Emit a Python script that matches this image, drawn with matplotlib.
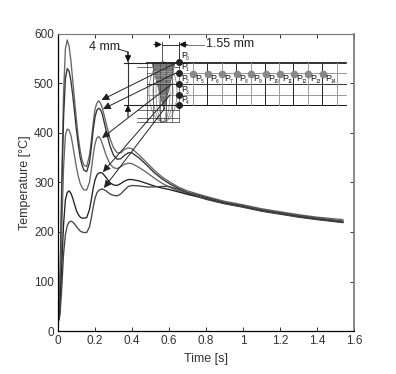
import matplotlib
matplotlib.use("Agg")
import matplotlib.pyplot as plt
from matplotlib.patches import Ellipse, Polygon

plt.rcParams['font.family'] = ['Liberation Sans', 'DejaVu Sans']

# curves
t = [0, .005, .01, .02, .03, .04, .05, .06, .07, .08, .09, .10, .11, .12, .13, .14, .155, .17, .18, .19, .20,
     .21, .22, .23, .24, .26, .28, .30, .32, .34, .36, .38, .40, .44, .48, .52, .56, .60, .65, .70, .80, .90,
     1.0, 1.1, 1.2, 1.3, 1.4, 1.54]
p0 = [20, 30, 80, 300, 480, 570, 588, 575, 545, 505, 465, 425, 390, 365, 345, 335, 332, 355, 385, 420, 448,
      460, 465, 460, 450, 420, 390, 370, 360, 360, 367, 370, 368, 355, 340, 325, 312, 302, 291, 283, 272, 262,
      255, 247, 241, 235, 230, 225]
p1 = [20, 28, 70, 270, 430, 510, 530, 525, 505, 475, 440, 405, 375, 350, 335, 325, 322, 340, 370, 405, 432,
      446, 450, 447, 437, 405, 375, 355, 347, 348, 355, 360, 360, 349, 335, 320, 308, 298, 288, 280, 270, 260,
      253, 245, 239, 233, 228, 222]
p2 = [20, 25, 55, 200, 330, 395, 408, 406, 395, 375, 352, 330, 312, 298, 290, 285, 285, 300, 325, 355, 378,
      390, 393, 388, 378, 355, 338, 330, 328, 332, 337, 339, 338, 330, 320, 309, 299, 291, 283, 277, 268, 259,
      252, 244, 238, 232, 227, 221]
p3 = [20, 23, 40, 130, 215, 265, 280, 283, 278, 268, 255, 243, 235, 230, 228, 228, 229, 245, 265, 288, 305,
      315, 319, 320, 319, 310, 300, 295, 294, 298, 303, 306, 306, 303, 298, 293, 289, 286, 281, 276, 267, 258,
      251, 243, 237, 231, 226, 220]
p4 = [20, 22, 30, 85, 155, 195, 213, 220, 222, 220, 216, 211, 206, 202, 200, 199, 199, 210, 228, 250, 268,
      279, 284, 286, 287, 283, 277, 274, 273, 277, 285, 292, 294, 293, 291, 291, 292, 292, 286, 279, 266, 257,
      250, 242, 236, 230, 225, 219]
series = [p0, p1, p2, p3, p4]
series_colors = ['#666666', '#333333', '#666666', '#222222', '#444444']

x_ticks = [0, 0.2, 0.4, 0.6, 0.8, 1, 1.2, 1.4, 1.6]
x_labels = ['0', '0.2', '0.4', '0.6', '0.8', '1', '1.2', '1.4', '1.6']
y_ticks = [0, 100, 200, 300, 400, 500, 600]

fig = plt.figure(figsize=(3.96, 3.74), dpi=100)
ax = fig.add_axes([58 / 396, 1 - 331 / 374, 296 / 396, 297 / 374])
for vals, c in zip(series, series_colors):
    ax.plot(t, vals, color=c, lw=0.95)
ax.set_xlim(0, 1.6)
ax.set_ylim(0, 600)
ax.set_xticks(x_ticks, x_labels)
ax.set_yticks(y_ticks)
ax.tick_params(direction='in', top=True, right=True, length=3, width=0.7, labelsize=8.5, colors='#333333', pad=3)
ax.set_xlabel('Time [s]', fontsize=9, color='#333333', labelpad=4)
ax.set_ylabel('Temperature [°C]', fontsize=9, color='#333333', labelpad=2)
for side in ['left', 'bottom']:
    ax.spines[side].set_linewidth(0.9)
ax.spines['top'].set_color('#777777')
ax.spines['right'].set_color('#777777')
ax.spines['right'].set_linewidth(1.2)

# schematic overlay, in picture pixels
ov = fig.add_axes([0, 0, 1, 1], facecolor='none')
ov.set_xlim(0, 396)
ov.set_ylim(374, 0)
ov.axis('off')

row_y = [62.7, 73.3, 84, 95, 105.3]
row_colors = ['#111111', '#999999', '#333333', '#999999', '#111111']
col_x = [193, 207, 222, 236, 251, 265, 279, 293, 308, 322, 337]
for i, y in enumerate(row_y):
    ov.plot([147, 346], [y, y], color=row_colors[i], lw=1.2 if i == 0 else 0.7)
for i, x in enumerate(col_x):
    ov.plot([x, x], [62.7, 105.3], color='#222222' if i % 2 else '#999999', lw=0.7)

# weld region mesh
for x in [147, 153, 160, 166, 172, 179]:
    ov.plot([x, x], [62.7, 122], color='#444444', lw=0.5)
for y in [67, 110, 118, 122]:
    ov.plot([137, 179], [y, y], color='#333333', lw=0.5)
for w in [8, 14, 20, 28]:
    ov.add_patch(Ellipse((163, 92), w, 60, fc='none', ec='#777777', lw=0.5))
ov.add_patch(Polygon([[152, 63], [175, 63], [164, 110]], fc='#777777', ec='#555555', lw=0.5))
for y in [67, 71, 75, 79, 83]:
    ov.plot([153, 174], [y, y], color='#aaaaaa', lw=0.4)

# nodes and labels
dot_y = [61.5, 72.5, 84, 95, 105.3]
for i, y in enumerate(dot_y):
    ov.plot([179], [y], 'o', color='#222222', ms=4, zorder=5)
    ov.text(181, y - 3.5, 'P', fontsize=6.5, color='#111111', zorder=6)
    ov.text(186, y - 1.5, str(i), fontsize=3.5, color='#111111', zorder=6)
gray_x = [193, 208, 222, 237, 251, 266, 280, 294, 308, 323]
for i, x in enumerate(gray_x):
    ov.plot([x], [74], 'o', color='#888888', ms=4.5, zorder=5)
    ov.text(x + 2.5, 81, 'P', fontsize=6.5, color='#111111', zorder=6)
    ov.text(x + 8, 83, str(i + 5), fontsize=3.5, color='#111111', zorder=6)

# pointers from nodes to the curves
heads = [(101.5, 100), (103, 109), (102, 138), (103, 172), (104, 188)]
tails = [(176, 63), (176, 73), (172, 84), (170, 95), (165, 108)]
for h, tl in zip(heads, tails):
    ov.annotate('', xy=h, xytext=tl,
                arrowprops=dict(arrowstyle='-|>', color='#222222', lw=0.7, mutation_scale=11, shrinkA=0, shrinkB=0))

# 4 mm dimension
ov.text(89, 47, '4 mm', fontsize=9, color='#222222', va='center')
ov.plot([118, 128, 128], [49, 52, 62], color='#333333', lw=0.7)
ov.plot([128, 128], [62, 105], color='#333333', lw=0.8)
ov.plot([124, 147], [62.5, 62.5], color='#222222', lw=0.8)
ov.plot([124, 147], [105.3, 105.3], color='#222222', lw=0.8)
ov.annotate('', xy=(128, 62), xytext=(128, 52),
            arrowprops=dict(arrowstyle='-|>', color='#111111', lw=0.8, mutation_scale=9, shrinkA=0, shrinkB=0))
ov.annotate('', xy=(128, 105), xytext=(128, 117),
            arrowprops=dict(arrowstyle='-|>', color='#111111', lw=0.8, mutation_scale=9, shrinkA=0, shrinkB=0))

# 1.55 mm dimension
ov.text(206, 44, '1.55 mm', fontsize=9, color='#222222', va='center')
ov.plot([162, 162], [42, 62], color='#555555', lw=0.7)
ov.plot([179, 179], [42, 62], color='#333333', lw=0.7)
ov.plot([162, 179], [44.5, 44.5], color='#333333', lw=0.7)
ov.plot([185, 204], [44.5, 44.5], color='#777777', lw=0.7)
ov.annotate('', xy=(162, 44.5), xytext=(154, 44.5),
            arrowprops=dict(arrowstyle='-|>', color='#111111', lw=0.8, mutation_scale=9, shrinkA=0, shrinkB=0))
ov.annotate('', xy=(179, 44.5), xytext=(187, 44.5),
            arrowprops=dict(arrowstyle='-|>', color='#111111', lw=0.8, mutation_scale=9, shrinkA=0, shrinkB=0))

fig.savefig('out.png', dpi=100)
